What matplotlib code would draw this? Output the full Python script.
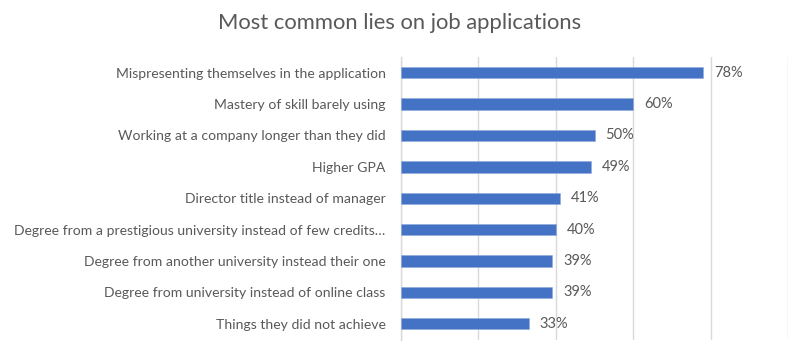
import matplotlib
matplotlib.use("Agg")
import matplotlib.pyplot as plt

categories = [
    "Mispresenting themselves in the application",
    "Mastery of skill barely using",
    "Working at a company longer than they did",
    "Higher GPA",
    "Director title instead of manager",
    "Degree from a prestigious university instead of few credits\u2026",
    "Degree from another university instead their one",
    "Degree from university instead of online class",
    "Things they did not achieve",
]
values = [78, 60, 50, 49, 41, 40, 39, 39, 33]
title = "Most common lies on job applications"

plt.rcParams['font.family'] = ['Lato', 'DejaVu Sans']
text_color = "#595959"
bar_color = "#4472C4"
grid_color = "#D9D9D9"

fig = plt.figure(figsize=(8.0, 3.51), dpi=100)
W, H = 800, 351
left, right = 401 / W, 788 / W
top, bottom = 1 - 57 / H, 1 - 339.5 / H
ax = fig.add_axes([left, bottom, right - left, top - bottom])

y = list(range(len(categories)))
ax.barh(y, values, height=0.36, color=bar_color, edgecolor="#8FAADC", linewidth=0.4, zorder=3)
ax.set_xlim(0, 100)
ax.set_ylim(len(categories) - 0.5, -0.5)
ax.set_xticks([0, 20, 40, 60, 80, 100])
ax.set_xticklabels([])
ax.tick_params(axis='x', length=0)
ax.xaxis.grid(True, color=grid_color, linewidth=1.0, zorder=0)
ax.set_yticks(y)
ax.set_yticklabels(categories, fontsize=10.1, color=text_color)
ax.tick_params(axis='y', length=0, pad=11)
for s in ["top", "right", "bottom"]:
    ax.spines[s].set_visible(False)
ax.spines["left"].set_color(grid_color)
ax.spines["left"].set_linewidth(1.0)

for yi, v in zip(y, values):
    ax.annotate(f"{v}%", xy=(v, yi), xytext=(8, 0), textcoords="offset points",
                va="center", ha="left", fontsize=10.5, color=text_color)

fig.text(0.5, 1 - 23 / H, title, ha="center", va="center", fontsize=15.8, color=text_color)

fig.savefig("out.png", dpi=100, facecolor="white")
